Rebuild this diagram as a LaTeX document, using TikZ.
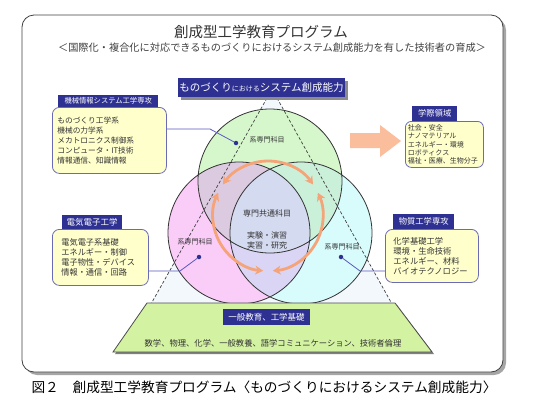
\documentclass[tikz,border=0pt]{standalone}
\usepackage{fontspec}
\setmainfont{Noto Sans CJK JP}
\usetikzlibrary{positioning, calc, arrows.meta, shadows}

\definecolor{tabblue}{HTML}{2E3192}
\definecolor{boxyellow}{HTML}{FFFFCC}
\definecolor{boxline}{HTML}{6B6BB5}
\definecolor{linkblue}{HTML}{5A5AC0}
\definecolor{ringorange}{HTML}{F5A378}
\definecolor{arrowsalmon}{HTML}{FBBE9C}
\definecolor{basegreen}{HTML}{D3F2A2}
\definecolor{circgreen}{HTML}{D6F7CC}
\definecolor{circpink}{HTML}{FACDF8}
\definecolor{circcyan}{HTML}{D8FBFB}
\definecolor{lenspc}{HTML}{DAD5F5}
\definecolor{lensgp}{HTML}{DCCBE0}
\definecolor{lensgc}{HTML}{CBF0DA}
\definecolor{lenscore}{HTML}{D4DAF0}
\definecolor{trifill}{HTML}{F3F8FD}
\definecolor{inktext}{HTML}{333333}

\begin{document}
\begin{tikzpicture}[x=1pt, y=-1pt,
    tab/.style={fill=tabblue, text=white, inner sep=0pt, anchor=south west},
    infobox/.style={draw=boxline, fill=boxyellow, rounded corners=7pt, line width=0.8pt,
      anchor=north west, align=left, inner ysep=0pt, text=inktext},
    link/.style={draw=linkblue, line width=0.8pt},
    dot/.style={circle, fill=tabblue, inner sep=0pt, minimum size=4.5pt},
    ring/.style={ringorange, line width=2.8pt, {Stealth[length=8pt,width=9pt]}-{Stealth[length=8pt,width=9pt]}},
    circline/.style={draw=black!80, line width=0.8pt},
    guide/.style={black!75, line width=0.7pt, dash pattern=on 3pt off 2pt},
    sublabel/.style={font=\fontsize{7}{8}\selectfont, text=inktext},
    centre/.style={font=\fontsize{8}{10}\selectfont, text=inktext}
  ]
  \useasboundingbox (0,0) rectangle (542,413);

  % Draw frame with shadow
  \fill[black!35, rounded corners=12pt] (25,18) rectangle (506,375);
  \draw[black!75, fill=white, rounded corners=12pt, line width=0.8pt] (22,15) rectangle (503,372);

  % Title and subtitle
  \node[font=\fontsize{14.5}{16}\selectfont, text=black!80] (title) at (261,32) {創成型工学教育プログラム};
  \node[font=\fontsize{10.2}{12}\selectfont, text=black!75] (subtitle) at (272,48)
    {＜国際化・複合化に対応できるものづくりにおけるシステム創成能力を有した技術者の育成＞};

  % Centres and corners
  \coordinate (gc) at (270,181);
  \coordinate (pc) at (239,233);
  \coordinate (cc) at (301,233);
  \coordinate (ringc) at (268,216);
  \coordinate (apexl) at (267,98);
  \coordinate (apexr) at (277,98);
  \coordinate (basel) at (151,304);
  \coordinate (baser) at (392,304);

  % Pale triangle behind circles
  \fill[trifill] (apexl) -- (apexr) -- (baser) -- (basel) -- cycle;

  % Draw circles and their overlaps
  \fill[circgreen] (gc) circle[radius=72pt];
  \fill[circpink] (pc) circle[radius=71pt];
  \fill[circcyan] (cc) circle[radius=71pt];
  \begin{scope}
    \clip (pc) circle[radius=71pt];
    \fill[lenspc] (cc) circle[radius=71pt];
  \end{scope}
  \begin{scope}
    \clip (gc) circle[radius=72pt];
    \fill[lensgp] (pc) circle[radius=71pt];
    \fill[lensgc] (cc) circle[radius=71pt];
    \clip (pc) circle[radius=71pt];
    \fill[lenscore] (cc) circle[radius=71pt];
  \end{scope}
  \draw[circline] (gc) circle[radius=72pt] (pc) circle[radius=71pt] (cc) circle[radius=71pt];

  % Dashed triangle sides
  \draw[guide] (apexl) -- (basel);
  \draw[guide] (apexr) -- (baser);

  % Ring of arrows
  \foreach \a in {35,155,275}
    \draw[ring] ($(ringc)+(\a:55pt)$) arc[start angle=\a, end angle=\a+110, radius=55pt];

  % Labels in the circles
  \node[sublabel] (glabel) at (267,140) {系専門科目};
  \node[sublabel] (plabel) at (195,242) {系専門科目};
  \node[sublabel] (clabel) at (342,247) {系専門科目};
  \node[centre] (common) at (267,213) {専門共通科目};
  \node[centre, align=center] (practice) at (267,240) {実験・演習\\実習・研究};

  % Big arrow towards the field box
  \fill[arrowsalmon] (350,133) -- (380,133) -- (380,125) -- (401,141) -- (380,157) -- (380,148) -- (350,148) -- cycle;

  % Department boxes
  \node[infobox, minimum width=114pt, minimum height=66pt, text width=104pt, inner xsep=5pt,
    font=\fontsize{7.7}{10}\selectfont] (mechbox) at (52,107)
    {ものづくり工学系\\機械の力学系\\メカトロニクス制御系\\コンピュータ・IT技術\\情報通信、知識情報};
  \node[tab, minimum width=100pt, minimum height=12pt, font=\fontsize{7.3}{8}\selectfont]
    (mechtab) at ($(mechbox.north west)+(6,0)$) {機械情報システム工学専攻};

  \node[infobox, minimum width=96pt, minimum height=56pt, text width=78pt, inner xsep=9pt,
    font=\fontsize{8.2}{10}\selectfont] (elecbox) at (52,229)
    {電気電子系基礎\\エネルギー・制御\\電子物性・デバイス\\情報・通信・回路};
  \node[tab, minimum width=60pt, minimum height=14pt, font=\fontsize{8.5}{9}\selectfont]
    (electab) at ($(elecbox.north west)+(10,0)$) {電気電子工学};

  \node[infobox, minimum width=93pt, minimum height=53pt, text width=77pt, inner xsep=8pt,
    font=\fontsize{8.3}{10}\selectfont] (matbox) at (385,229)
    {化学基礎工学\\環境・生命技術\\エネルギー、材料\\バイオテクノロジー};
  \node[tab, minimum width=61pt, minimum height=15pt, font=\fontsize{8.3}{9}\selectfont]
    (mattab) at ($(matbox.north west)+(8,0)$) {物質工学専攻};

  \node[infobox, rounded corners=6pt, minimum width=78pt, minimum height=46pt, text width=73pt, inner xsep=2.5pt,
    font=\fontsize{7}{8.3}\selectfont] (fieldbox) at (405,121)
    {社会・安全\\ナノマテリアル\\エネルギー・環境\\ロボティクス\\福祉・医療、生物分子};
  \node[tab, minimum width=45pt, minimum height=15pt, font=\fontsize{8.3}{9}\selectfont]
    (fieldtab) at ($(fieldbox.north west)+(7,0)$) {学際領域};

  % Connectors from boxes to circles
  \node[dot] (mechdot) at (236,143) {};
  \node[dot] (elecdot) at (199,257) {};
  \node[dot] (matdot) at (341,257) {};
  \coordinate (mechknee) at (210,129);
  \coordinate (elecknee) at (180,271);
  \coordinate (matknee) at (360,271);
  \draw[link] (mechdot) -- (mechknee) -- (mechknee -| mechbox.east);
  \draw[link] (elecdot) -- (elecknee) -- (elecknee -| elecbox.east);
  \draw[link] (matdot) -- (matknee) -- (matknee -| matbox.west);

  % Base trapezoid
  \fill[black!50] (149,305) -- (397,305) -- (434,354) -- (115,354) -- cycle;
  \draw[black!70, fill=basegreen, line width=0.8pt] (147,303) -- (395,303) -- (432,352) -- (113,352) -- cycle;
  \node[tab, anchor=center, minimum width=87pt, minimum height=16pt, font=\fontsize{8.5}{9}\selectfont]
    (basetab) at (266.5,317) {一般教育、工学基礎};
  \node[font=\fontsize{8.3}{9}\selectfont, text=inktext] (basetext) at (273,343)
    {数学、物理、化学、一般教養、語学コミュニケーション、技術者倫理};

  % Banner on top
  \node[tab, anchor=center, minimum width=167pt, minimum height=19pt,
    drop shadow={shadow xshift=2.5pt, shadow yshift=-2.5pt, fill=black!45, opacity=1}]
    (banner) at (261.5,87.5)
    {\fontsize{10.5}{12}\selectfont ものづくり{\fontsize{7}{8}\selectfont における}システム創成能力};

  % Caption
  \node[font=\fontsize{13.7}{15}\selectfont] (caption) at (264,387)
    {図２　創成型工学教育プログラム〈ものづくりにおけるシステム創成能力〉};
\end{tikzpicture}
\end{document}
